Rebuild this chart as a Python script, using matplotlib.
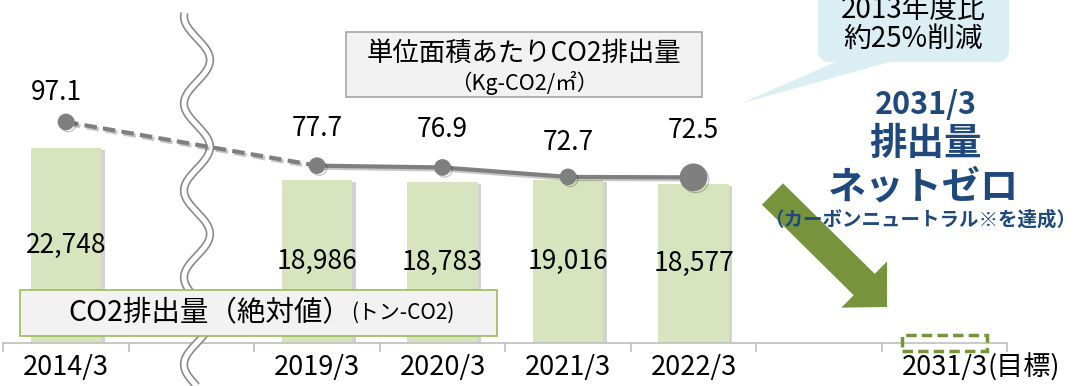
import numpy as np
import matplotlib
matplotlib.use('Agg')
import matplotlib.pyplot as plt
import matplotlib.patheffects as pe
from matplotlib.lines import Line2D
from matplotlib.patches import Rectangle, FancyBboxPatch, FancyArrow, Polygon

plt.rcParams['font.family'] = ['Noto Sans CJK JP', 'DejaVu Sans']

W, H = 1080, 386

# 年度別データ
categories = ['2014/3', '', '2019/3', '2020/3', '2021/3', '2022/3', '', '2031/3']
emissions = [22748, None, 18986, 18783, 19016, 18577, None, None]   # トン-CO2
target_pos = 7                                                      # 2031/3 目標
intensity_pos = [0, 2, 3, 4, 5]
intensity = [97.1, 77.7, 76.9, 72.7, 72.5]                          # Kg-CO2/㎡

BAR = '#d7e4bd'
GRAY = '#7f7f7f'
GREEN = '#77933c'
NAVY = '#1f497d'

fig = plt.figure(figsize=(W / 100, H / 100), dpi=100)
ax = fig.add_axes([0, 43 / H, 1, 343 / H])
ax2 = ax.twinx()
ov = fig.add_axes([0, 0, 1, 1], zorder=10)
ov.set_xlim(0, W)
ov.set_ylim(H, 0)
ov.axis('off')
ov.patch.set_visible(False)

step = 125.5
xlim = (-66 / step, (W - 66) / step)
for a in (ax, ax2):
    a.set_xlim(*xlim)
    a.set_yticks([])
    for s in ('top', 'right', 'left'):
        a.spines[s].set_visible(False)
ax2.spines['bottom'].set_visible(False)
ax.set_ylim(0, 40000)
ax2.set_ylim(-1.1, 151.3)
ax.patch.set_visible(False)

# 棒グラフ (絶対値)
xs = np.arange(len(categories))
bar_fx = [pe.SimplePatchShadow(offset=(2.5, -1.5), shadow_rgbFace='#808080', alpha=0.35), pe.Normal()]
for x, v in zip(xs, emissions):
    if v is None:
        continue
    ax.bar(x, v, width=0.56, color=BAR, zorder=2, path_effects=bar_fx)
    ax.text(x, v / 2, f'{v:,}', ha='center', va='center', fontsize=19, zorder=3)

# 2031/3 目標 (ゼロ) の点線枠
ax.bar(target_pos, 1860, bottom=-930, width=0.68, fill=False, edgecolor=GREEN,
       lw=2.5, ls=(0, (3, 1.5)), zorder=4, clip_on=False)

# x軸
ax.spines['bottom'].set_color('#bfbfbf')
ax.spines['bottom'].set_linewidth(1.2)
ax.spines['bottom'].set_bounds(-0.5, len(categories) - 0.5)
ax.set_xticks(xs, categories)
ax.set_xticks(np.arange(-0.5, len(categories), 1), minor=True)
ax.tick_params(axis='x', which='major', length=0, pad=8, labelsize=19.5)
ax.tick_params(axis='x', which='minor', length=6.5, width=1.2, color='#bfbfbf')
ax2.tick_params(axis='x', which='both', length=0, labelbottom=False)
target_label = ax.get_xticklabels()[target_pos]
ax.annotate('(目標)', xy=(1, 0.5), xycoords=target_label, va='center', ha='left', fontsize=19.5)

# 波線 (省略記号)
wy = np.linspace(13, H, 400)
wx = 197 + 13 * np.cos(2 * np.pi * (wy - 60) / 87)
ax.add_line(Line2D(wx, wy, transform=ov.transData, color='#8a8a8a', lw=6,
                   solid_capstyle='butt', clip_on=False, zorder=5))
ax.add_line(Line2D(wx, wy, transform=ov.transData, color='white', lw=3.6,
                   solid_capstyle='butt', clip_on=False, zorder=5))

# 折れ線 (単位面積あたり)
line_fx = [pe.SimpleLineShadow(offset=(1.5, -1.5), alpha=0.22), pe.Normal()]
ax2.plot(intensity_pos[:2], intensity[:2], color=GRAY, lw=3, ls=(0, (3, 1.5)), path_effects=line_fx)
ax2.plot(intensity_pos[1:], intensity[1:], color=GRAY, lw=3, path_effects=line_fx)
ax2.plot(intensity_pos[:-1], intensity[:-1], 'o', ms=11, color=GRAY, path_effects=line_fx)
ax2.plot(intensity_pos[-1:], intensity[-1:], 'o', ms=19, color=GRAY, path_effects=line_fx)
offsets = [(-7, 21), (0, 27), (0, 27), (0, 25), (0, 34)]
for x, v, off in zip(intensity_pos, intensity, offsets):
    ax2.annotate(f'{v:.1f}', xy=(x, v), xytext=off, textcoords='offset points',
                 ha='center', va='center', fontsize=19)

# 凡例ボックス
ov.add_patch(Rectangle((346, 32), 356, 65, fc='#f2f2f2', ec='#a6a6a6', lw=1.2))
ov.text(524, 53, '単位面積あたりCO2排出量', ha='center', va='center', fontsize=19)
ov.text(524, 83, '（Kg-CO2/㎡）', ha='center', va='center', fontsize=15.5)

ov.add_patch(Rectangle((20, 290), 477, 46, fc='#f2f2f2', ec='#9bbb59', lw=1.2))
t1 = ov.text(68, 313, 'CO2排出量（絶対値）', ha='left', va='center', fontsize=20.5)
ov.annotate('(トン-CO2)', xy=(1, 0.5), xycoords=t1, ha='left', va='center', fontsize=15)

# 吹き出し
ov.add_patch(Polygon([(742, 103), (840, 60), (897, 60)], closed=True, fc='#dbeef4', ec='none'))
ov.add_patch(FancyBboxPatch((818, -30), 191, 92, boxstyle='round,pad=0,rounding_size=12',
                            fc='#dbeef4', ec='none'))
ov.text(913, 10, '2013年度比', ha='center', va='center', fontsize=20)
ov.text(913, 39, '約25%削減', ha='center', va='center', fontsize=20)

# 矢印とネットゼロ目標
ov.add_patch(FancyArrow(772.5, 194, 114.5, 113, width=30, head_width=65, head_length=32,
                        length_includes_head=True, fc=GREEN, ec='none', zorder=1))
ov.text(926, 105, '2031/3', ha='center', va='center', fontsize=22, fontweight='bold', color=NAVY, zorder=2)
ov.text(925, 143, '排出量', ha='center', va='center', fontsize=27, fontweight='bold', color=NAVY, zorder=2)
ov.text(924, 187, 'ネットゼロ', ha='center', va='center', fontsize=27.5, fontweight='bold', color=NAVY, zorder=2)
ov.text(920, 220, '（カーボンニュートラル※を達成）', ha='center', va='center', fontsize=14,
        fontweight='bold', color=NAVY, zorder=2)

fig.savefig('out.png', dpi=100)
